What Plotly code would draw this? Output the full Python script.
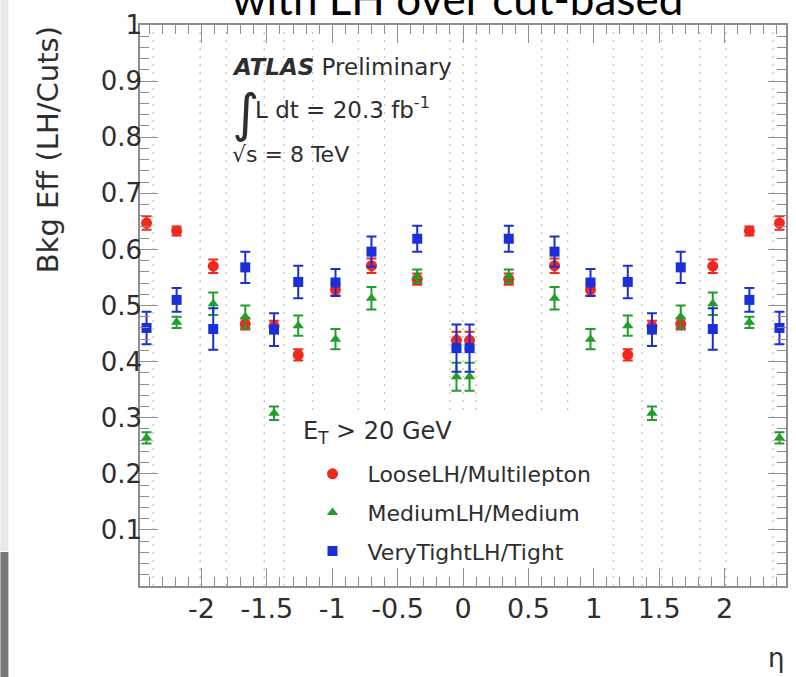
import plotly.graph_objects as go

# Pseudorapidity binning (bin edges) used for the efficiency ratio
eta_edges = [-2.47, -2.37, -2.01, -1.81, -1.52, -1.37, -1.15, -0.8, -0.6, -0.1, 0.0,
             0.1, 0.6, 0.8, 1.15, 1.37, 1.52, 1.81, 2.01, 2.37, 2.47]
eta_centres = [(lo + hi) / 2 for lo, hi in zip(eta_edges[:-1], eta_edges[1:])]

# Background efficiency ratio LH / cut-based, per eta bin
loose_ratio = [0.647, 0.633, 0.570, 0.467, 0.463, 0.412, 0.528, 0.571, 0.547, 0.438,
               0.438, 0.547, 0.571, 0.528, 0.412, 0.463, 0.467, 0.570, 0.633, 0.647]
loose_err = [0.012, 0.008, 0.012, 0.010, 0.010, 0.010, 0.010, 0.013, 0.010, 0.015,
             0.015, 0.010, 0.013, 0.010, 0.010, 0.010, 0.010, 0.012, 0.008, 0.012]

medium_ratio = [0.264, 0.470, 0.503, 0.480, 0.308, 0.464, 0.440, 0.513, 0.552, 0.373,
                0.373, 0.552, 0.513, 0.440, 0.464, 0.308, 0.480, 0.503, 0.470, 0.264]
medium_err = [0.010, 0.010, 0.020, 0.020, 0.012, 0.018, 0.018, 0.020, 0.012, 0.025,
              0.025, 0.012, 0.020, 0.018, 0.018, 0.012, 0.020, 0.020, 0.010, 0.010]

tight_ratio = [0.460, 0.510, 0.458, 0.568, 0.457, 0.542, 0.541, 0.596, 0.619, 0.424,
               0.424, 0.619, 0.596, 0.541, 0.542, 0.457, 0.568, 0.458, 0.510, 0.460]
tight_err = [0.029, 0.021, 0.037, 0.028, 0.029, 0.029, 0.024, 0.027, 0.023, 0.042,
             0.042, 0.023, 0.027, 0.024, 0.029, 0.029, 0.028, 0.037, 0.021, 0.029]

series_names = ["LooseLH/Multilepton", "MediumLH/Medium", "VeryTightLH/Tight"]

x_tick_vals = [-2, -1.5, -1, -0.5, 0, 0.5, 1, 1.5, 2]
x_tick_text = ["-2", "-1.5", "-1", "-0.5", "0", "0.5", "1", "1.5", "2"]
y_tick_vals = [0.1, 0.2, 0.3, 0.4, 0.5, 0.6, 0.7, 0.8, 0.9, 1.0]
y_tick_text = ["0.1", "0.2", "0.3", "0.4", "0.5", "0.6", "0.7", "0.8", "0.9", "1"]

W, H = 796, 677
ML, MR, MT, MB = 140, 8, 25, 91
PW, PH = W - ML - MR, H - MT - MB

FONT = "DejaVu Sans"
TEXT = "#2e2e2e"
FRAME = "#8e8e8e"


def px_x(px):
    return (px - ML) / PW


def px_y(py):
    return (H - MB - py) / PH


styles = [
    dict(color="#f0281e", symbol="circle", size=11),
    dict(color="#1f9e2a", symbol="triangle-up", size=10),
    dict(color="#1a2fd6", symbol="square", size=10),
]

fig = go.Figure()
for name, vals, errs, st in zip(series_names,
                                [loose_ratio, medium_ratio, tight_ratio],
                                [loose_err, medium_err, tight_err],
                                styles):
    fig.add_trace(go.Scatter(
        x=eta_centres, y=vals, mode="markers", name=name, legendgroup=name,
        marker=dict(color=st["color"], symbol=st["symbol"], size=st["size"],
                    line=dict(width=0)),
        error_y=dict(type="data", array=errs, color=st["color"],
                     thickness=2, width=5),
    ))

shapes = []
# dotted bin boundaries
for edge in eta_edges[1:-1]:
    shapes.append(dict(type="line", xref="x", yref="paper", x0=edge, x1=edge,
                       y0=0, y1=0.99, layer="below",
                       line=dict(color="#c4c4c4", width=1.3, dash="2px,6px")))
# white legend pad
shapes.append(dict(type="rect", xref="paper", yref="paper",
                   x0=px_x(297), x1=px_x(611), y0=0, y1=px_y(411),
                   fillcolor="white", line=dict(width=0), layer="below"))
# slide edge strip on the left
shapes.append(dict(type="rect", xref="paper", yref="paper",
                   x0=px_x(0), x1=px_x(8), y0=px_y(551), y1=px_y(0),
                   fillcolor="#e8e8ed", line=dict(width=0), layer="below"))
shapes.append(dict(type="rect", xref="paper", yref="paper",
                   x0=px_x(0), x1=px_x(8), y0=px_y(H), y1=px_y(552),
                   fillcolor="#767676", line=dict(width=0), layer="below"))

annotations = [
    dict(text="with LH over cut-based", xref="paper", yref="paper",
         x=px_x(458), y=px_y(26), xanchor="center", yanchor="bottom",
         showarrow=False, font=dict(family="Lato", size=44, color="black")),
    dict(text="Bkg Eff (LH/Cuts)", xref="paper", yref="paper",
         x=px_x(48), y=px_y(150), xanchor="center", yanchor="middle",
         textangle=-90, showarrow=False,
         font=dict(family=FONT, size=29, color=TEXT)),
    dict(text="η", xref="paper", yref="paper", x=px_x(778), y=px_y(658),
         xanchor="center", yanchor="middle", showarrow=False,
         font=dict(family=FONT, size=26, color=TEXT)),
    dict(text="<b><i>ATLAS</i></b> Preliminary", xref="paper", yref="paper",
         x=px_x(230), y=px_y(67), xanchor="left", yanchor="middle",
         showarrow=False, font=dict(family=FONT, size=23, color=TEXT)),
    dict(text="∫", xref="paper", yref="paper", x=px_x(230), y=px_y(113),
         xanchor="left", yanchor="middle", showarrow=False,
         font=dict(family=FONT, size=52, color=TEXT)),
    dict(text="L dt = 20.3 fb<sup>-1</sup>", xref="paper", yref="paper",
         x=px_x(253), y=px_y(108), xanchor="left", yanchor="middle",
         showarrow=False, font=dict(family=FONT, size=23, color=TEXT)),
    dict(text="√s = 8 TeV", xref="paper", yref="paper",
         x=px_x(230), y=px_y(155), xanchor="left", yanchor="middle",
         showarrow=False, font=dict(family=FONT, size=22, color=TEXT)),
    dict(text="E<sub>T</sub> > 20 GeV", xref="paper", yref="paper",
         x=px_x(301), y=px_y(432), xanchor="left", yanchor="middle",
         showarrow=False, font=dict(family=FONT, size=24, color=TEXT)),
]

axis_common = dict(showline=True, linecolor=FRAME, linewidth=1.5, mirror="allticks",
                   ticks="inside", tickcolor=FRAME, tickwidth=1.2, ticklen=18,
                   showgrid=False, zeroline=False)

fig.update_layout(
    width=W, height=H,
    margin=dict(l=ML, r=MR, t=MT, b=MB),
    paper_bgcolor="white", plot_bgcolor="white",
    shapes=shapes, annotations=annotations,
    showlegend=True,
    legend=dict(x=px_x(298), xanchor="left", y=px_y(453), yanchor="top",
                bgcolor="rgba(0,0,0,0)", traceorder="grouped", tracegroupgap=7,
                itemwidth=60,
                font=dict(family=FONT, size=22, color=TEXT)),
    xaxis=dict(range=[-2.47, 2.47], tickmode="array", tickvals=x_tick_vals,
               ticktext=x_tick_text, ticklabelstandoff=-2,
               tickfont=dict(family=FONT, size=27, color=TEXT),
               minor=dict(ticks="inside", dtick=0.1, tick0=0, ticklen=9,
                          tickcolor=FRAME, tickwidth=1.2),
               **axis_common),
    yaxis=dict(range=[0, 1], tickmode="array", tickvals=y_tick_vals,
               ticktext=y_tick_text, ticklabelstandoff=-9,
               tickfont=dict(family=FONT, size=26, color=TEXT),
               minor=dict(ticks="inside", dtick=0.02, tick0=0, ticklen=9,
                          tickcolor=FRAME, tickwidth=1.2),
               **axis_common),
)

fig.write_html("out.html")
